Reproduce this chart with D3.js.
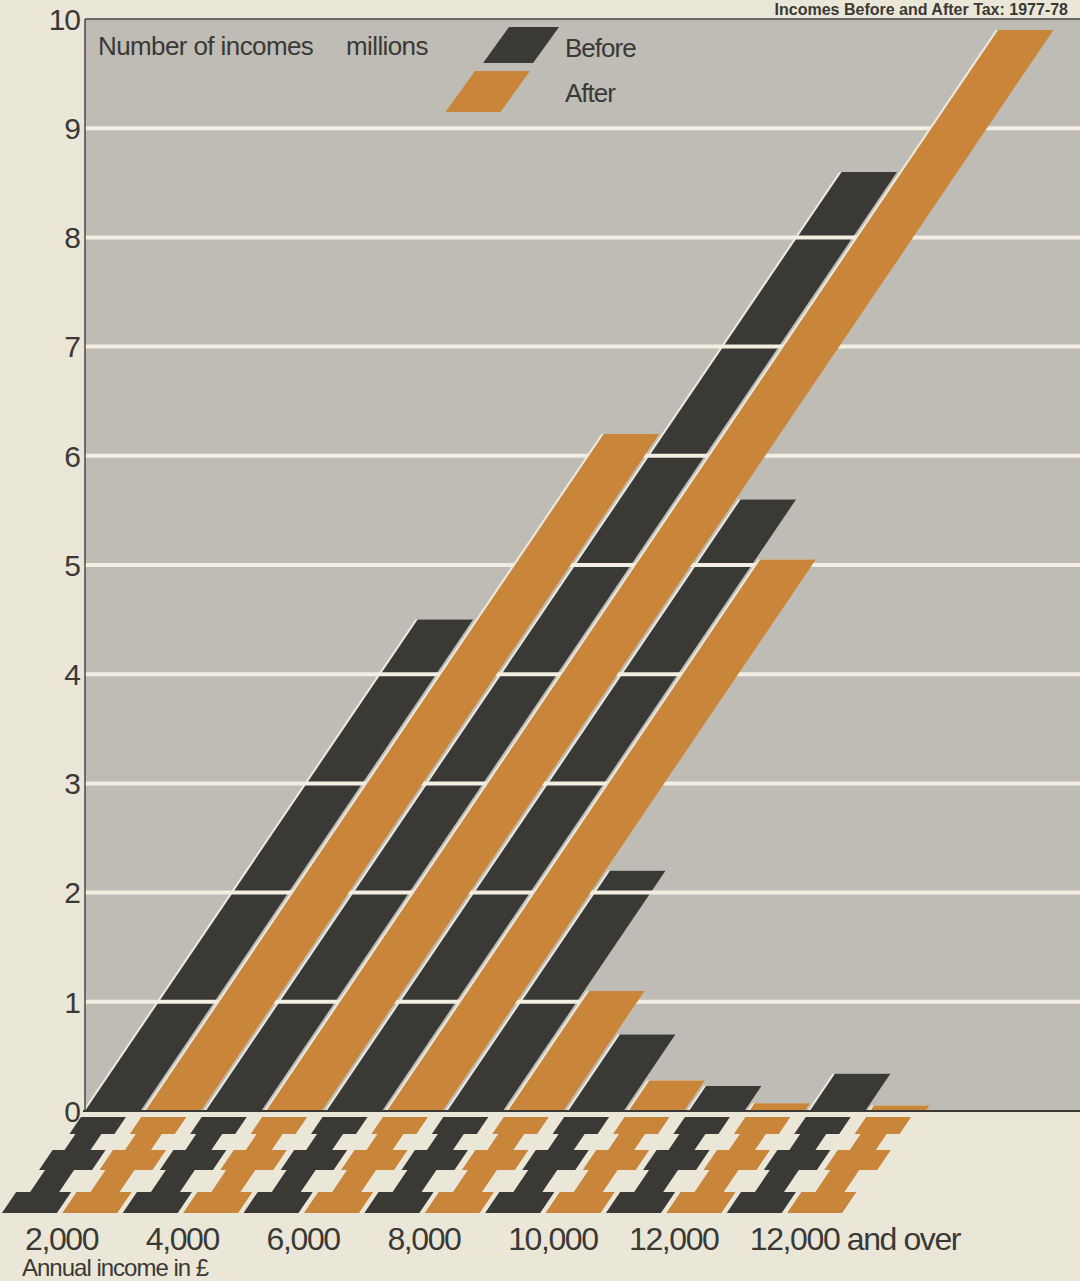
<!DOCTYPE html>
<html>
<head>
<meta charset="utf-8">
<script src="https://cdn.jsdelivr.net/npm/d3@7"></script>
<style>
  body { margin: 0; background: #ebe7d8; }
  svg { display: block; font-family: "Liberation Sans", Arial, sans-serif; }
</style>
</head>
<body>
<svg width="1080" height="1281"></svg>
<script>
// values (millions of incomes)
var categories = ["2,000", "4,000", "6,000", "8,000", "10,000", "12,000", "12,000 and over"];
var series = ["Before", "After"];
var before = [4.5, 8.6, 5.6, 2.2, 0.7, 0.23, 0.34];
var after = [6.2, 9.9, 5.05, 1.1, 0.28, 0.07, 0.05];
var yTicks = [0, 1, 2, 3, 4, 5, 6, 7, 8, 9, 10];

var colors = { Before: "#3b3936", After: "#c9853a" };
var ink = "#3b3936";
var slant = 0.677; // horizontal shift per px of height

var svg = d3.select("svg");

var plotLeft = 85, plotTop = 19, plotBottom = 1111, plotRight = 1080;
var step = 60.4, gap = 5;

var yScale = d3.scaleLinear().domain([0, 10]).range([plotBottom, plotTop]);
var x0 = d3.scaleBand().domain(categories)
  .range([plotLeft - gap / 2, plotLeft - gap / 2 + categories.length * 2 * step]);
var x1 = d3.scaleBand().domain(series).range([0, x0.bandwidth()])
  .paddingInner(gap / step).paddingOuter(gap / (2 * step));
var bw = x1.bandwidth();

// flat list of bars
var bars = [];
categories.forEach(function (c, i) {
  bars.push({ cat: c, key: "Before", value: before[i] });
  bars.push({ cat: c, key: "After", value: after[i] });
});

function barPath(d, dx) {
  var xl = x0(d.cat) + x1(d.key) + (dx || 0);
  var y0 = yScale(0), yt = yScale(d.value);
  var s = slant * (y0 - yt);
  return "M" + xl + "," + y0 + "L" + (xl + bw) + "," + y0 +
    "L" + (xl + bw + s) + "," + yt + "L" + (xl + s) + "," + yt + "Z";
}

// title (cut off in the scan, kept small so it fits above the frame)
svg.append("text").attr("x", 1068).attr("y", 15)
  .attr("text-anchor", "end").attr("font-size", 16).attr("font-weight", "bold")
  .attr("fill", ink)
  .text("Incomes Before and After Tax: 1977-78");

// plot background
svg.append("rect")
  .attr("x", plotLeft).attr("y", plotTop)
  .attr("width", plotRight - plotLeft).attr("height", plotBottom - plotTop)
  .attr("fill", "#bebcb4");

function drawBars(key) {
  var data = bars.filter(function (d) { return d.key == key; });
  svg.append("g").selectAll("path").data(data).enter().append("path")
    .attr("d", function (d) { return barPath(d, -2.5); })
    .attr("fill", "#ece9df");
  svg.append("g").selectAll("path").data(data).enter().append("path")
    .attr("d", function (d) { return barPath(d, 0); })
    .attr("fill", colors[key]);
}

drawBars("Before");

// white gridlines run over the dark bars, under the orange ones
svg.append("g").selectAll("line").data(yTicks.filter(function (t) { return t > 0 && t < 10; }))
  .enter().append("line")
  .attr("x1", plotLeft).attr("x2", plotRight)
  .attr("y1", function (d) { return yScale(d); })
  .attr("y2", function (d) { return yScale(d); })
  .attr("stroke", "#f2eee2").attr("stroke-width", 4);

drawBars("After");

// axis frame
svg.append("line").attr("x1", plotLeft).attr("x2", plotLeft)
  .attr("y1", plotTop).attr("y2", plotBottom).attr("stroke", "#4a4844").attr("stroke-width", 1.5);
svg.append("line").attr("x1", plotLeft).attr("x2", plotRight)
  .attr("y1", plotTop).attr("y2", plotTop).attr("stroke", "#4a4844").attr("stroke-width", 1.5);
svg.append("line").attr("x1", plotLeft - 2).attr("x2", plotRight)
  .attr("y1", plotBottom).attr("y2", plotBottom).attr("stroke", ink).attr("stroke-width", 2);

// y tick labels
svg.append("g").selectAll("text").data(yTicks).enter().append("text")
  .attr("x", 80).attr("y", function (d) { return yScale(d); })
  .attr("dy", "0.36em")
  .attr("text-anchor", "end")
  .attr("font-size", 30).attr("letter-spacing", -1).attr("fill", ink)
  .text(function (d) { return d; });

// stylised pound signs under each bar, same slant
var glyph = [[0,0],[45,0],[45,17],[32,17],[32,33],[47,33],[47,53],[29,53],[29,75],[41,75],[41,96],
  [-14,96],[-14,75],[0,75],[0,53],[-6,53],[-6,33],[6,33],[6,17],[0,17]];
var glyphTop = plotBottom + 6;
svg.append("g").selectAll("path").data(bars).enter().append("path")
  .attr("d", function (d) {
    var xl = x0(d.cat) + x1(d.key);
    return "M" + glyph.map(function (p) {
      var y = glyphTop + p[1];
      return [xl + p[0] - slant * (y - plotBottom), y].join(",");
    }).join("L") + "Z";
  })
  .attr("fill", function (d) { return colors[d.key]; });

// category labels
svg.append("g").selectAll("text").data(categories).enter().append("text")
  .attr("x", function (d) { return x0(d) + gap / 2 - 60; })
  .attr("y", 1250)
  .attr("font-size", 32).attr("letter-spacing", -1.4).attr("fill", ink)
  .text(function (d) { return d; });

svg.append("text").attr("x", 22).attr("y", 1276)
  .attr("font-size", 24).attr("letter-spacing", -1).attr("fill", ink)
  .text("Annual income in £");

// legend
svg.append("text").attr("x", 98).attr("y", 55)
  .attr("font-size", 26).attr("letter-spacing", -0.6).attr("fill", ink)
  .text("Number of incomes");
svg.append("text").attr("x", 346).attr("y", 55)
  .attr("font-size", 26).attr("letter-spacing", -0.6).attr("fill", ink)
  .text("millions");

var legend = svg.append("g").selectAll("g").data(series).enter().append("g");
legend.append("path")
  .attr("d", function (d, i) {
    var top = i == 0 ? 27 : 71, h = i == 0 ? 36 : 41;
    var tl = i == 0 ? 509 : 475, w = i == 0 ? 50 : 55;
    var sx = h * 0.72;
    return "M" + (tl - sx) + "," + (top + h) + "L" + (tl - sx + w) + "," + (top + h) +
      "L" + (tl + w) + "," + top + "L" + tl + "," + top + "Z";
  })
  .attr("fill", function (d) { return colors[d]; });
legend.append("text")
  .attr("x", 565).attr("y", function (d, i) { return i == 0 ? 57 : 102; })
  .attr("font-size", 26).attr("letter-spacing", -1).attr("fill", ink)
  .text(function (d) { return d; });
</script>
</body>
</html>
